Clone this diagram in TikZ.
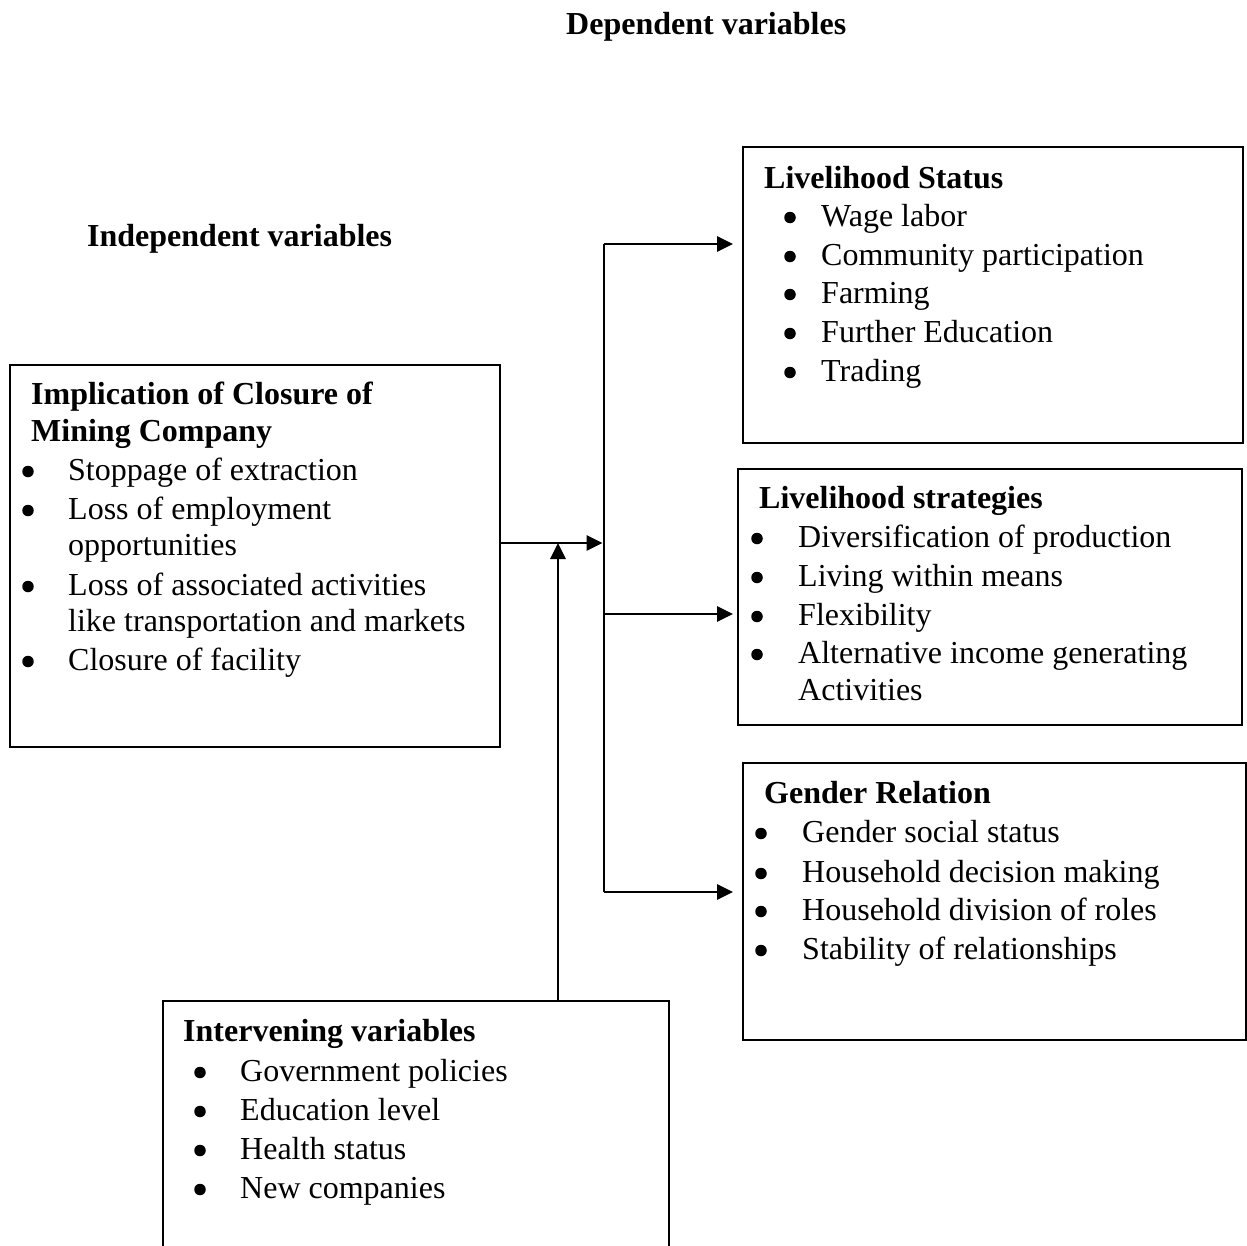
\documentclass[tikz,border=0pt]{standalone}
\usepackage{fontspec}
\setmainfont{Liberation Serif}
\usetikzlibrary{arrows.meta}
\newcommand\bodyfs{\fontsize{32}{38}\selectfont}
\tikzset{
  box/.style={draw, line width=2pt, inner sep=0pt, outer sep=0pt},
  txt/.style={anchor=base west, inner sep=0pt, font=\bodyfs},
  hd/.style={anchor=base west, inner sep=0pt, font=\bodyfs\bfseries},
  bul/.style={circle, fill=black, inner sep=0pt, minimum size=11.5pt, yshift=8.5pt},
  conn/.style={line width=2.7pt},
  arr/.style={conn, -{Triangle[length=16pt,width=15pt]}}
}
\begin{document}
\begin{tikzpicture}[x=1pt,y=-1pt]
\path[use as bounding box, clip] (0,0) rectangle (1247,1245);
\fill[white] (0,0) rectangle (1247,1245);

% headings
\node[hd] (dep) at (566,34) {Dependent variables};
\node[hd] (indep) at (87,246) {Independent variables};

% boxes
\node[box, minimum width=490pt, minimum height=382pt] (imp) at (255,556) {};
\node[box, minimum width=500pt, minimum height=296pt] (ls) at (993,295) {};
\node[box, minimum width=504pt, minimum height=256pt] (lstr) at (990,597) {};
\node[box, minimum width=503pt, minimum height=277pt] (gr) at (994.5,901.5) {};
\node[box, minimum width=506.5pt, minimum height=270pt] (iv) at (415.75,1136) {};

% Implication box
\node[hd] (impH1) at (31,404) {Implication of Closure of};
\node[hd] (impH2) at (31,441) {Mining Company};
\node[bul] (impB1) at (28,480) {};
\node[txt] (impT1) at (68,480) {Stoppage of extraction};
\node[bul] (impB2) at (28,519) {};
\node[txt] (impT2) at (68,519) {Loss of employment};
\node[txt] (impT2b) at (68,555) {opportunities};
\node[bul] (impB3) at (28,595) {};
\node[txt] (impT3) at (68,595) {Loss of associated activities};
\node[txt] (impT3b) at (68,631) {like transportation and markets};
\node[bul] (impB4) at (28,670) {};
\node[txt] (impT4) at (68,670) {Closure of facility};

% Livelihood Status
\node[hd] (lsH) at (764,188) {Livelihood Status};
\node[bul] (lsB1) at (790,226) {};
\node[txt] (lsT1) at (821,226) {Wage labor};
\node[bul] (lsB2) at (790,265) {};
\node[txt] (lsT2) at (821,265) {Community participation};
\node[bul] (lsB3) at (790,303) {};
\node[txt] (lsT3) at (821,303) {Farming};
\node[bul] (lsB4) at (790,342) {};
\node[txt] (lsT4) at (821,342) {Further Education};
\node[bul] (lsB5) at (790,381) {};
\node[txt] (lsT5) at (821,381) {Trading};

% Livelihood strategies
\node[hd] (lstrH) at (759,508) {Livelihood strategies};
\node[bul] (lstrB1) at (757,547) {};
\node[txt] (lstrT1) at (798,547) {Diversification of production};
\node[bul] (lstrB2) at (757,586) {};
\node[txt] (lstrT2) at (798,586) {Living within means};
\node[bul] (lstrB3) at (757,625) {};
\node[txt] (lstrT3) at (798,625) {Flexibility};
\node[bul] (lstrB4) at (757,663) {};
\node[txt] (lstrT4) at (798,663) {Alternative income generating};
\node[txt] (lstrT4b) at (798,700) {Activities};

% Gender Relation
\node[hd] (grH) at (764,803) {Gender Relation};
\node[bul] (grB1) at (761,842) {};
\node[txt] (grT1) at (802,842) {Gender social status};
\node[bul] (grB2) at (761,882) {};
\node[txt] (grT2) at (802,882) {Household decision making};
\node[bul] (grB3) at (761,920) {};
\node[txt] (grT3) at (802,920) {Household division of roles};
\node[bul] (grB4) at (761,959) {};
\node[txt] (grT4) at (802,959) {Stability of relationships};

% Intervening variables
\node[hd] (ivH) at (183,1041) {Intervening variables};
\node[bul] (ivB1) at (200,1081) {};
\node[txt] (ivT1) at (240,1081) {Government policies};
\node[bul] (ivB2) at (200,1120) {};
\node[txt] (ivT2) at (240,1120) {Education level};
\node[bul] (ivB3) at (200,1159) {};
\node[txt] (ivT3) at (240,1159) {Health status};
\node[bul] (ivB4) at (200,1198) {};
\node[txt] (ivT4) at (240,1198) {New companies};

% connectors
\coordinate (t1) at (604,244);
\coordinate (t2) at (604,892);
\coordinate (t3) at (604,614);
\coordinate (j) at (604,543);
\coordinate (k) at (558,543);

\draw[conn] (t1) -- (t2);
\draw[arr, shorten >=1.5pt] (imp.east |- j) -- (j);
\draw[arr, shorten >=10pt] (t1) -- (ls.west |- t1);
\draw[arr, shorten >=5pt] (t3) -- (lstr.west |- t3);
\draw[arr, shorten >=10pt] (t2) -- (gr.west |- t2);
\draw[arr] (iv.north -| k) -- (k);
\end{tikzpicture}
\end{document}
